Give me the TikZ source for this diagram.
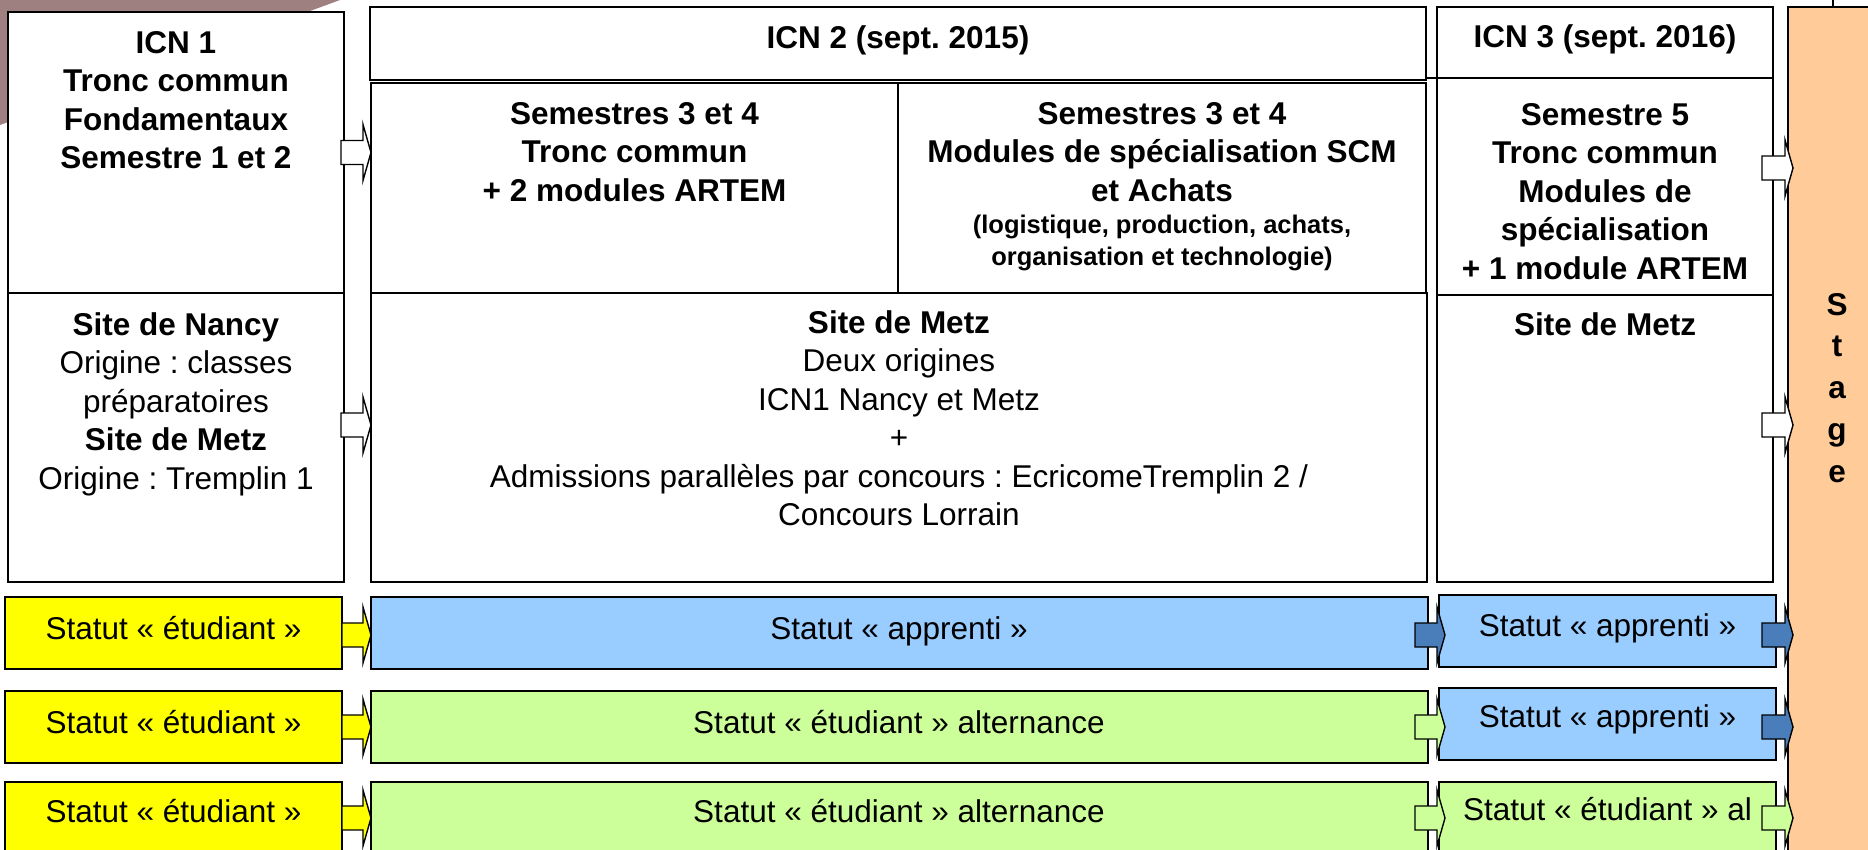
\documentclass[tikz,border=0pt]{standalone}
\usepackage{fontspec}
\setmainfont{Liberation Sans}
\usetikzlibrary{calc}
\frenchspacing
\definecolor{brownish}{RGB}{158,128,128}
\definecolor{yel}{RGB}{255,255,0}
\definecolor{lblue}{RGB}{153,204,255}
\definecolor{lgreen}{RGB}{204,255,153}
\definecolor{dblue}{RGB}{74,126,187}
\definecolor{peach}{RGB}{255,204,153}
\newcommand\mkbox[6]{\node[box,#6,minimum width={#4-#2},minimum height={#5-#3}] (#1) at ({(#2+#4)/2},{(#3+#5)/2}) {};}
\newcommand\blk[6]{%
  \draw[arr, fill=#6]
    ($(#1.east |- 0,#3)+(#4,-12)$) -- ($(#2.west |- 0,#3)+(#5-8,-12)$) --
    ($(#2.west |- 0,#3)+(#5-8,-28)$) -- ($(#2.west |- 0,#3)+(#5,0)$) --
    ($(#2.west |- 0,#3)+(#5-8,28)$) -- ($(#2.west |- 0,#3)+(#5-8,12)$) --
    ($(#1.east |- 0,#3)+(#4,12)$) -- cycle;}
\newcommand\ts{\rule{0pt}{24pt}}
\begin{document}
\begin{tikzpicture}[x=1pt,y=-1pt,
  box/.style={draw, line width=2pt, fill=white, inner sep=0pt, outer sep=0pt},
  arr/.style={draw, line width=1.4pt, line join=miter},
  rt/.style={font=\fontsize{31.5}{38.5}\selectfont, align=center, inner sep=0pt, anchor=north},
  bt/.style={font=\fontsize{31.5}{38.5}\selectfont\bfseries, align=center, inner sep=0pt, anchor=north},
  rowtxt/.style={font=\fontsize{31.5}{38.5}\selectfont, inner sep=0pt, anchor=base},
  headtxt/.style={font=\fontsize{31.5}{38.5}\selectfont\bfseries, inner sep=0pt, anchor=base},
]
\useasboundingbox (0,0) rectangle (1868,850);
\clip (0,0) rectangle (1868,850);
\fill[white] (0,0) rectangle (1868,850);
\fill[brownish] (0,0) -- (340,0) -- (0,125) -- cycle;

% upper boxes
\mkbox{icn1top}{8}{12}{344}{293}{}
\mkbox{icn1bot}{8}{293}{344}{582}{}
\mkbox{icn2head}{370}{7}{1426}{80}{}
\mkbox{icn2a}{371}{83}{898}{293}{}
\mkbox{icn2b}{898}{83}{1426}{293}{}
\mkbox{metz2}{371}{293}{1427}{582}{}
\mkbox{icn3top}{1437}{7}{1773}{295}{}
\mkbox{icn3bot}{1437}{295}{1773}{582}{}
\mkbox{stage}{1788}{7}{1886}{870}{fill=peach, line width=1.5pt}
\draw[line width=2pt] ($(icn3top.north west)+(-10,71)$) -- ($(icn3top.north east)+(1,71)$);
\draw[line width=1.5pt] (stage.north -| 1833,0) -- (1833,0);

% status rows
\mkbox{stud1}{5}{597}{342}{669}{fill=yel}
\mkbox{stud2}{5}{691}{342}{763}{fill=yel}
\mkbox{stud3}{5}{782}{342}{854}{fill=yel}
\mkbox{app2}{371}{597}{1428}{669}{fill=lblue}
\mkbox{alt2a}{371}{691}{1428}{763}{fill=lgreen}
\mkbox{alt2b}{371}{782}{1428}{854}{fill=lgreen}
\mkbox{app3a}{1439}{595}{1776}{667}{fill=lblue}
\mkbox{app3b}{1439}{688}{1776}{760}{fill=lblue}
\mkbox{alt3}{1439}{782}{1776}{854}{fill=lgreen}

% texts
\node[bt] (t-icn1) at (176,29) {\ts ICN 1\\Tronc commun\\Fondamentaux\\Semestre 1 et 2};
\node[headtxt] (t-icn2h) at (898,49) {ICN 2 (sept. 2015)};
\node[bt] (t-icn2a) at (634.5,100) {\ts Semestres 3 et 4\\Tronc commun\\+ 2 modules ARTEM};
\node[bt] (t-icn2b) at (1162,100) {\ts Semestres 3 et 4\\Modules de spécialisation SCM\\et Achats};
\node[font=\fontsize{25.5}{32}\selectfont\bfseries, align=center, inner sep=0pt, anchor=north] (t-icn2bs) at (1162,213) {\rule{0pt}{20pt}(logistique, production, achats,\\organisation et technologie)};
\node[headtxt] (t-icn3h) at (1605,48) {ICN 3 (sept. 2016)};
\node[bt] (t-icn3) at (1605,101) {\ts Semestre 5\\Tronc commun\\Modules de\\spécialisation\\+ 1 module ARTEM};
\node[rt] (t-icn1b) at (176,311) {\ts\textbf{Site de Nancy}\\Origine : classes\\préparatoires\\\textbf{Site de Metz}\\Origine : Tremplin 1};
\node[rt] (t-metz2) at (899,309) {\ts\textbf{Site de Metz}\\Deux origines\\ICN1 Nancy et Metz\\+\\Admissions parallèles par concours : EcricomeTremplin 2 /\\Concours Lorrain};
\node[headtxt] (t-icn3b) at (1605,335) {Site de Metz};
\node[font=\fontsize{31.5}{41.7}\selectfont\bfseries, align=center, inner sep=0pt, anchor=north] (t-stage) at (1837,291) {\ts S\\t\\a\\g\\e};

\node[rowtxt] at (173.5,639) {Statut « étudiant »};
\node[rowtxt] at (173.5,733) {Statut « étudiant »};
\node[rowtxt] at (173.5,822) {Statut « étudiant »};
\node[rowtxt] at (899,639) {Statut « apprenti »};
\node[rowtxt] at (899,733) {Statut « étudiant » alternance};
\node[rowtxt] at (899,822) {Statut « étudiant » alternance};
\node[rowtxt] at (1607.5,636) {Statut « apprenti »};
\node[rowtxt] at (1607.5,727) {Statut « apprenti »};
\node[rowtxt] at (1607.5,820) {Statut « étudiant » al};

% arrows
\blk{icn1top}{icn2a}{152.5}{-3}{0}{white}
\blk{icn1bot}{metz2}{425}{-3}{0}{white}
\blk{icn3top}{stage}{168}{-11}{5}{white}
\blk{icn3bot}{stage}{425}{-11}{5}{white}
\blk{stud1}{app2}{635}{0}{0}{yel}
\blk{stud2}{alt2a}{727}{0}{0}{yel}
\blk{stud3}{alt2b}{818}{0}{0}{yel}
\blk{app2}{app3a}{635}{-13}{6}{dblue}
\blk{alt2a}{app3b}{727}{-13}{6}{lgreen}
\blk{alt2b}{alt3}{818}{-13}{6}{lgreen}
\blk{app3a}{stage}{635}{-14}{5}{dblue}
\blk{app3b}{stage}{727}{-14}{5}{dblue}
\blk{alt3}{stage}{818}{-14}{5}{lgreen}
\end{tikzpicture}
\end{document}
